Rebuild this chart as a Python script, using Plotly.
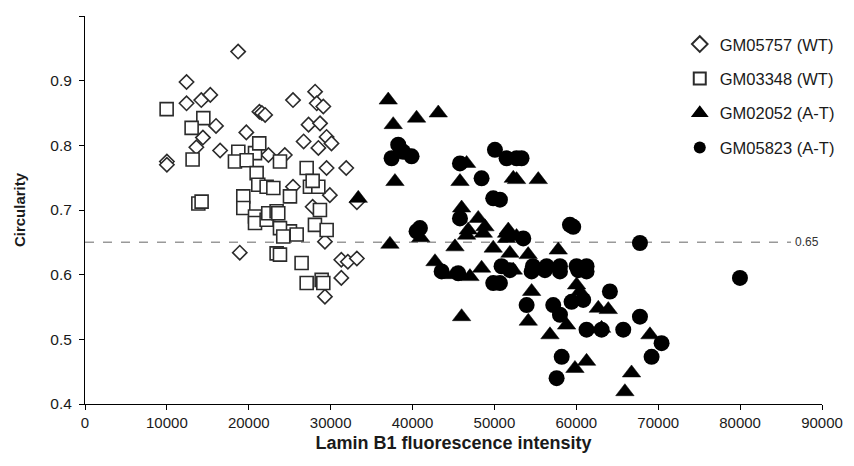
import plotly.graph_objects as go

# ---- data ----
wt1_x = [18700, 12400, 12400, 14200, 15300, 16000, 14400, 13600, 16500, 19700, 21300, 21600, 22000,
         10000, 10000, 28100, 25400, 28300, 29100, 27300, 28700, 26700, 28500, 29500, 30100, 22400,
         24400, 29500, 31900, 29900, 25400, 18900, 29300, 31300, 32100, 33200, 31300, 29300, 33200, 27800]
wt1_y = [0.945, 0.898, 0.865, 0.870, 0.878, 0.830, 0.812, 0.797, 0.792, 0.820, 0.852, 0.850, 0.847,
         0.775, 0.770, 0.883, 0.870, 0.865, 0.860, 0.832, 0.834, 0.806, 0.796, 0.813, 0.803, 0.785,
         0.785, 0.765, 0.765, 0.723, 0.736, 0.634, 0.651, 0.623, 0.620, 0.625, 0.595, 0.566, 0.712, 0.705]

wt2_x = [9970, 14450, 13020, 13140, 18720, 20760, 21280, 18310, 19740, 13840, 14240, 19330, 19330,
         20760, 20760, 22180, 20960, 21160, 22180, 23000, 23810, 25030, 27070, 27470, 28490, 28690,
         22380, 23400, 28080, 29510, 25030, 25850, 23810, 24210, 23600, 23400, 23810, 26450, 27070,
         28900, 29100, 27800]
wt2_y = [0.856, 0.842, 0.827, 0.778, 0.790, 0.788, 0.803, 0.775, 0.777, 0.710, 0.713, 0.721, 0.703,
         0.690, 0.680, 0.685, 0.757, 0.739, 0.736, 0.734, 0.775, 0.721, 0.765, 0.736, 0.736, 0.700,
         0.695, 0.698, 0.677, 0.669, 0.667, 0.662, 0.672, 0.659, 0.695, 0.633, 0.631, 0.618, 0.587,
         0.592, 0.587, 0.745]

at1_x = [33370, 37030, 37640, 40490, 43140, 37850, 46600, 45790, 52300, 45990, 48020, 48840, 46800,
         51480, 52700, 37240, 41000, 42740, 45990, 48430, 52300, 45180, 46600, 48640, 49850, 51480,
         52700, 55350, 51690, 57790, 51890, 54120, 54540, 54130, 58810, 56780, 60030, 60440, 62680,
         63900, 63080, 68990, 59830, 61250, 66740, 65930, 44970, 47010]
at1_y = [0.718, 0.870, 0.832, 0.842, 0.850, 0.744, 0.772, 0.744, 0.749, 0.703, 0.687, 0.674, 0.669,
         0.664, 0.659, 0.647, 0.657, 0.620, 0.535, 0.610, 0.607, 0.643, 0.661, 0.664, 0.641, 0.656,
         0.747, 0.747, 0.669, 0.638, 0.633, 0.631, 0.574, 0.528, 0.522, 0.507, 0.584, 0.574, 0.548,
         0.546, 0.517, 0.507, 0.455, 0.466, 0.448, 0.419, 0.600, 0.597]

at2_x = [38250, 37440, 39880, 38860, 50060, 51480, 52700, 45790, 48430, 49850, 40900, 45790, 43550,
         45580, 49850, 50870, 53310, 50670, 59220, 59620, 67770, 53520, 54700, 56370, 58000, 60030,
         61250, 51890, 54540, 56170, 58000, 60230, 61250, 50670, 53930, 57180, 58000, 59420, 60840,
         64100, 61250, 63080, 65730, 67770, 70410, 69190, 58210, 57590, 79980, 40490]
at2_y = [0.801, 0.780, 0.783, 0.790, 0.793, 0.780, 0.780, 0.772, 0.749, 0.718, 0.672, 0.687, 0.605,
         0.602, 0.587, 0.613, 0.780, 0.716, 0.677, 0.674, 0.649, 0.656, 0.613, 0.613, 0.613, 0.613,
         0.613, 0.607, 0.605, 0.607, 0.605, 0.607, 0.605, 0.587, 0.553, 0.553, 0.538, 0.558, 0.561,
         0.574, 0.515, 0.515, 0.515, 0.535, 0.494, 0.473, 0.473, 0.440, 0.595, 0.667]

threshold = 0.65
threshold_label = "0.65"

FONT = "Liberation Sans, Arial, sans-serif"
TXT = "#1a1a1a"

fig = go.Figure()
fig.add_trace(go.Scatter(x=wt1_x, y=wt1_y, mode="markers", name="GM05757 (WT)", legendgroup="a",
                         marker=dict(symbol="diamond", size=11, color="white",
                                     line=dict(color="#2b2b2b", width=1.6))))
fig.add_trace(go.Scatter(x=wt2_x, y=wt2_y, mode="markers", name="GM03348 (WT)", legendgroup="b",
                         marker=dict(symbol="square", size=13, color="white",
                                     line=dict(color="#2b2b2b", width=1.6))))
fig.add_trace(go.Scatter(x=at1_x, y=at1_y, mode="markers", name="GM02052 (A-T)", legendgroup="c",
                         marker=dict(symbol="triangle-up", size=16, color="black",
                                     line=dict(color="black", width=0.5))))
fig.add_trace(go.Scatter(x=at2_x, y=at2_y, mode="markers", name="GM05823 (A-T)", legendgroup="d",
                         marker=dict(symbol="circle", size=16, color="black",
                                     line=dict(color="black", width=0))))

fig.add_shape(type="line", xref="paper", yref="y", x0=0, x1=0.958, y0=threshold, y1=threshold,
              line=dict(color="#999999", width=1.5, dash="dash"), layer="below")
fig.add_annotation(xref="paper", yref="y", x=0.96, y=threshold, text=threshold_label,
                   showarrow=False, xanchor="left", yanchor="middle",
                   font=dict(family=FONT, size=12, color="#333333"))

# page body has an 8px default margin, so the figure is sized/offset to compensate
fig.update_layout(
    width=846, height=458,
    margin=dict(l=77, r=32, t=8, b=62),
    paper_bgcolor="white", plot_bgcolor="white",
    font=dict(family=FONT, size=15, color=TXT),
    showlegend=True,
    legend=dict(x=0.807, y=0.972, xanchor="left", yanchor="top", bgcolor="rgba(0,0,0,0)",
                tracegroupgap=10, font=dict(family=FONT, size=16.5, color=TXT),
                itemwidth=30, itemsizing="constant"),
    xaxis=dict(range=[0, 90000], dtick=10000, tick0=0, tickformat="d", showgrid=False,
               zeroline=False, showline=True, linecolor="black", linewidth=1,
               ticks="outside", ticklen=5, tickcolor="black", automargin=False,
               tickfont=dict(family=FONT, size=15, color=TXT),
               title=dict(text="<b>Lamin B1 fluorescence intensity</b>", standoff=6,
                          font=dict(family=FONT, size=18, color=TXT))),
    yaxis=dict(range=[0.4, 1.0], dtick=0.1, tick0=0.4, showgrid=False, zeroline=False,
               showline=True, linecolor="black", linewidth=1,
               ticks="outside", ticklen=5, tickcolor="black", automargin=False,
               ticklabelstandoff=4,
               tickfont=dict(family=FONT, size=15.5, color=TXT),
               title=dict(text="<b>Circularity</b>", standoff=21,
                          font=dict(family=FONT, size=15, color=TXT))),
)

fig.write_html("out.html")
